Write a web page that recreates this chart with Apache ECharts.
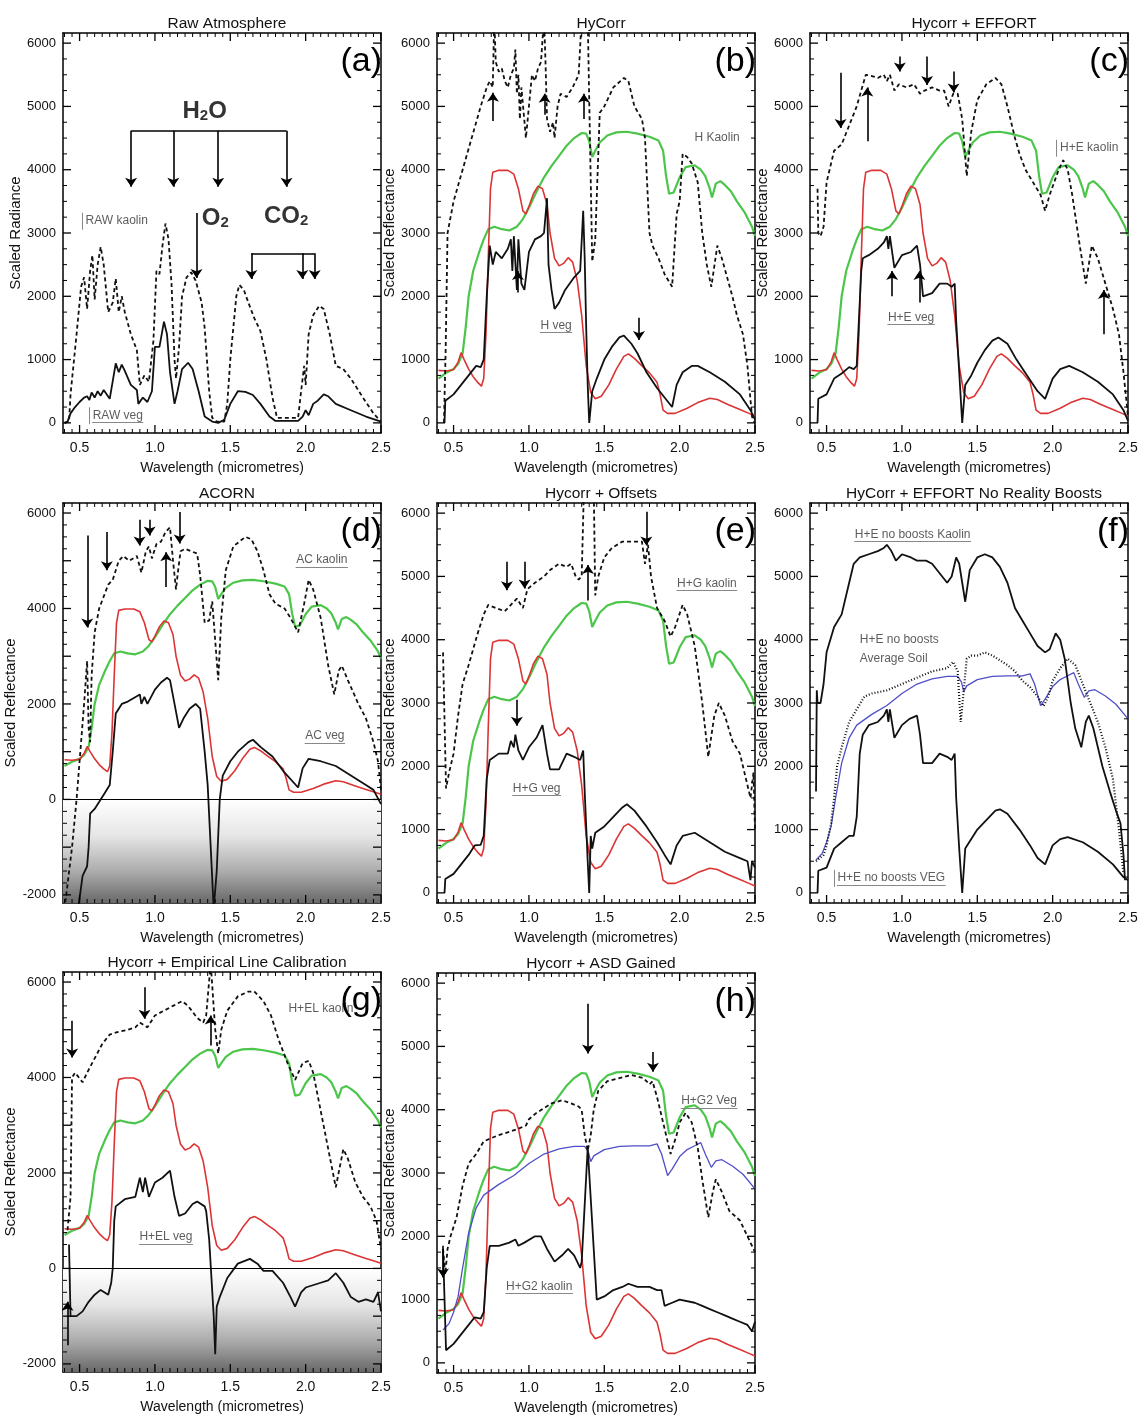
<!DOCTYPE html>
<html>
<head>
<meta charset="utf-8">
<title>Atmospheric correction comparison</title>
<script src="https://cdn.jsdelivr.net/npm/echarts@6.0.0/dist/echarts.min.js"></script>
<style>
  html, body { margin: 0; padding: 0; background: #fff; }
  #chart { width: 1142px; height: 1416px; }
</style>
</head>
<body>
<div id="chart"></div>
<script>
const FONT = '"Liberation Sans", Arial, sans-serif';
const xMin = 0.39, xMax = 2.5;
const xTicks = [0.5, 1.0, 1.5, 2.0, 2.5];
const yTicks = [0, 1000, 2000, 3000, 4000, 5000, 6000];
const yTicksNeg = [-2000, -1000, 0, 1000, 2000, 3000, 4000, 5000, 6000];

// library spectra, the same in most panels
const libKaolin = [[0.40,700],[0.45,790],[0.50,850],[0.53,930],[0.56,1100],[0.58,1500],[0.60,2000],[0.63,2400],[0.67,2700],[0.70,2900],[0.73,3060],[0.77,3100],[0.82,3060],[0.87,3040],[0.92,3100],[0.96,3220],[1.00,3400],[1.05,3650],[1.10,3880],[1.15,4060],[1.20,4220],[1.25,4380],[1.30,4500],[1.35,4580],[1.38,4570],[1.40,4450],[1.42,4200],[1.44,4300],[1.47,4430],[1.52,4540],[1.58,4590],[1.65,4600],[1.72,4570],[1.80,4520],[1.86,4460],[1.89,4300],[1.91,3900],[1.93,3620],[1.96,3640],[2.00,3880],[2.04,4040],[2.10,4070],[2.14,4000],[2.17,3900],[2.20,3700],[2.215,3560],[2.24,3780],[2.27,3820],[2.30,3760],[2.34,3660],[2.38,3500],[2.43,3330],[2.48,3100],[2.50,2950]];
const libVeg = [[0.40,830],[0.45,820],[0.50,840],[0.53,960],[0.55,1110],[0.57,1000],[0.60,850],[0.63,730],[0.66,640],[0.685,580],[0.70,700],[0.715,1400],[0.73,2600],[0.745,3700],[0.76,3960],[0.80,3990],[0.86,3990],[0.90,3930],[0.93,3700],[0.96,3350],[0.98,3300],[1.00,3420],[1.03,3620],[1.06,3740],[1.09,3700],[1.12,3450],[1.14,3000],[1.17,2600],[1.20,2480],[1.23,2520],[1.26,2610],[1.29,2540],[1.32,2250],[1.35,1700],[1.38,900],[1.41,480],[1.44,380],[1.48,420],[1.53,600],[1.58,850],[1.63,1050],[1.66,1090],[1.70,1020],[1.75,900],[1.80,790],[1.85,640],[1.87,450],[1.89,200],[1.92,150],[1.97,150],[2.05,230],[2.12,320],[2.20,390],[2.25,370],[2.32,290],[2.40,210],[2.46,150],[2.50,110]];
const soilAvg = [[0.43,520],[0.47,620],[0.50,800],[0.53,1050],[0.56,1500],[0.60,2050],[0.65,2450],[0.70,2650],[0.80,2820],[0.90,2960],[1.00,3150],[1.10,3300],[1.20,3380],[1.30,3420],[1.37,3420],[1.395,3330],[1.41,3180],[1.43,3270],[1.50,3370],[1.60,3420],[1.70,3430],[1.80,3430],[1.85,3460],[1.88,3300],[1.92,2960],[1.95,3060],[2.00,3260],[2.05,3370],[2.10,3430],[2.14,3480],[2.17,3300],[2.21,3090],[2.24,3190],[2.28,3210],[2.35,3110],[2.42,2980],[2.50,2750]];

// (a) raw atmosphere
const aKaolin = [[0.40,0],[0.43,20],[0.44,450],[0.48,1400],[0.51,2150],[0.53,2300],[0.55,1800],[0.57,2400],[0.585,2650],[0.60,1950],[0.62,2500],[0.64,2780],[0.66,2500],[0.69,1750],[0.72,1900],[0.74,2280],[0.76,1750],[0.78,2000],[0.80,1750],[0.84,1400],[0.88,1150],[0.90,600],[0.93,750],[0.96,650],[0.99,1300],[1.01,2400],[1.03,2350],[1.05,2800],[1.07,3150],[1.09,2900],[1.11,2200],[1.13,1000],[1.14,700],[1.16,1200],[1.18,2000],[1.21,2300],[1.24,2380],[1.27,2250],[1.31,1900],[1.33,1500],[1.36,500],[1.38,80],[1.41,20],[1.46,20],[1.48,300],[1.50,1000],[1.54,2000],[1.56,2180],[1.59,2100],[1.62,1900],[1.66,1650],[1.70,1450],[1.74,1000],[1.78,400],[1.81,80],[1.95,80],[1.97,500],[1.99,900],[2.00,600],[2.02,1400],[2.03,1500],[2.05,1700],[2.09,1850],[2.12,1800],[2.16,1400],[2.20,900],[2.25,850],[2.30,700],[2.38,400],[2.45,150],[2.50,20]];
const aVeg = [[0.40,0],[0.42,20],[0.44,150],[0.47,250],[0.50,330],[0.53,400],[0.55,420],[0.565,360],[0.58,480],[0.60,400],[0.62,500],[0.64,430],[0.66,520],[0.70,380],[0.74,940],[0.76,800],[0.78,920],[0.80,820],[0.84,600],[0.88,520],[0.89,300],[0.92,400],[0.95,330],[0.98,500],[1.00,1200],[1.03,1200],[1.06,1600],[1.08,1400],[1.10,800],[1.13,300],[1.15,500],[1.18,850],[1.22,950],[1.25,850],[1.29,500],[1.33,100],[1.38,20],[1.42,0],[1.46,50],[1.50,300],[1.55,500],[1.60,490],[1.65,440],[1.70,300],[1.76,100],[1.80,30],[1.95,30],[1.98,100],[2.00,200],[2.02,120],[2.05,300],[2.08,350],[2.12,450],[2.15,420],[2.20,300],[2.30,200],[2.40,100],[2.50,20]];

// (b) HyCorr
const bKaolin = [[0.436,0],[0.447,1100],[0.46,3000],[0.50,3500],[0.56,4000],[0.62,4500],[0.68,5000],[0.72,5300],[0.74,5400],[0.76,5300],[0.77,6400],[0.78,5700],[0.80,5550],[0.82,5600],[0.84,5400],[0.86,5300],[0.88,5500],[0.90,5600],[0.91,5900],[0.92,5200],[0.93,5500],[0.94,4800],[0.95,5300],[0.98,4500],[1.00,5000],[1.02,5500],[1.04,5400],[1.06,5600],[1.08,5700],[1.10,6400],[1.11,5700],[1.12,4800],[1.14,4600],[1.16,4750],[1.17,4500],[1.19,5000],[1.21,5200],[1.25,5150],[1.29,5300],[1.31,5400],[1.33,5500],[1.35,6400],[1.39,6400],[1.42,2550],[1.44,2900],[1.47,4900],[1.50,5000],[1.56,5300],[1.63,5450],[1.66,5400],[1.70,5000],[1.75,4800],[1.77,4500],[1.80,3000],[1.82,2800],[1.86,2600],[1.90,2350],[1.95,2150],[1.98,3300],[2.00,3500],[2.02,4250],[2.05,4200],[2.08,4100],[2.12,3800],[2.15,3000],[2.18,2500],[2.21,2150],[2.25,2800],[2.28,2600],[2.35,2000],[2.38,1700],[2.42,1400],[2.45,900],[2.48,100],[2.50,0]];
const bVeg = [[0.44,0],[0.445,350],[0.50,450],[0.55,600],[0.60,750],[0.65,900],[0.68,880],[0.70,1000],[0.72,2000],[0.74,2800],[0.76,2500],[0.78,2700],[0.82,2600],[0.86,2750],[0.88,2900],[0.89,2400],[0.90,2950],[0.92,2100],[0.93,2900],[0.95,2200],[0.97,2100],[1.00,2700],[1.04,2900],[1.08,2950],[1.10,3000],[1.12,3550],[1.13,2500],[1.15,2100],[1.17,1800],[1.20,1900],[1.24,2100],[1.30,2300],[1.34,2400],[1.36,3350],[1.37,2600],[1.38,1500],[1.39,600],[1.40,0],[1.42,500],[1.45,700],[1.50,1000],[1.55,1200],[1.60,1350],[1.63,1380],[1.68,1250],[1.72,1100],[1.78,800],[1.85,550],[1.90,400],[1.95,250],[1.98,600],[2.02,800],[2.08,900],[2.12,900],[2.20,800],[2.30,650],[2.40,450],[2.47,200],[2.50,50]];

// (c) Hycorr + EFFORT
const cKaolin = [[0.44,3700],[0.445,3000],[0.46,2950],[0.48,3100],[0.50,3800],[0.55,4300],[0.60,4400],[0.65,4700],[0.70,5000],[0.73,5250],[0.76,5500],[0.80,5480],[0.84,5450],[0.88,5500],[0.90,5400],[0.92,5500],[0.95,5250],[0.98,5350],[1.03,5300],[1.08,5350],[1.12,5200],[1.15,5250],[1.20,5300],[1.25,5250],[1.28,5250],[1.31,5000],[1.34,5200],[1.37,5200],[1.40,4800],[1.43,3900],[1.46,4600],[1.50,5100],[1.56,5350],[1.62,5450],[1.66,5350],[1.70,5000],[1.75,4500],[1.78,4250],[1.82,4000],[1.87,3800],[1.92,3600],[1.95,3350],[1.98,3600],[2.04,4000],[2.07,4150],[2.10,4000],[2.13,3600],[2.18,2800],[2.22,2200],[2.26,2800],[2.30,2600],[2.35,2200],[2.40,1800],[2.44,1400],[2.47,800],[2.50,100]];
const cVeg = [[0.44,0],[0.445,380],[0.50,450],[0.55,700],[0.60,780],[0.65,880],[0.68,850],[0.70,900],[0.73,2400],[0.74,2600],[0.78,2650],[0.84,2750],[0.88,2850],[0.90,2950],[0.91,2750],[0.92,2950],[0.95,2450],[1.00,2650],[1.06,2700],[1.10,2800],[1.12,2500],[1.14,2000],[1.20,2050],[1.25,2200],[1.30,2200],[1.33,2150],[1.35,2200],[1.36,1600],[1.38,800],[1.40,0],[1.42,600],[1.46,750],[1.50,950],[1.55,1150],[1.60,1300],[1.64,1350],[1.70,1250],[1.76,1000],[1.83,750],[1.90,500],[1.95,380],[2.00,700],[2.05,850],[2.11,900],[2.20,800],[2.30,650],[2.40,450],[2.47,200],[2.50,30]];

// (d) ACORN
const dKaolin = [[0.40,-2300],[0.45,-1000],[0.48,0],[0.50,800],[0.53,2000],[0.55,2900],[0.56,1500],[0.57,1200],[0.58,2600],[0.60,3500],[0.63,4000],[0.69,4500],[0.72,4600],[0.76,5000],[0.79,5100],[0.83,5000],[0.88,5100],[0.91,4750],[0.94,5200],[0.96,5300],[0.98,5050],[1.01,5350],[1.04,5400],[1.07,5600],[1.10,5700],[1.12,5000],[1.14,4400],[1.15,4700],[1.17,5200],[1.20,5250],[1.24,5200],[1.28,5150],[1.30,4700],[1.33,3700],[1.36,3750],[1.38,4150],[1.42,2500],[1.44,3800],[1.47,4800],[1.52,5300],[1.60,5500],[1.64,5450],[1.68,5200],[1.72,4800],[1.76,4300],[1.80,4100],[1.86,4000],[1.90,3800],[1.95,3500],[1.99,4100],[2.02,4600],[2.05,4400],[2.10,3800],[2.15,2800],[2.19,2200],[2.22,2700],[2.24,2800],[2.28,2500],[2.35,2000],[2.40,1700],[2.45,1200],[2.48,800],[2.50,200]];
const dVeg = [[0.49,-2300],[0.52,-1600],[0.55,-1400],[0.56,-1000],[0.57,-300],[0.60,-200],[0.66,100],[0.70,300],[0.72,1000],[0.74,1800],[0.78,2000],[0.82,2050],[0.90,2200],[0.91,2000],[0.93,2150],[0.95,2000],[1.00,2300],[1.04,2450],[1.08,2550],[1.10,2500],[1.13,2000],[1.16,1500],[1.19,1700],[1.23,1900],[1.27,2000],[1.30,1900],[1.33,1000],[1.35,300],[1.37,-1000],[1.39,-2300],[1.41,-1500],[1.43,0],[1.45,500],[1.50,800],[1.55,1000],[1.62,1200],[1.65,1250],[1.70,1100],[1.78,900],[1.85,600],[1.95,250],[1.98,650],[2.02,850],[2.10,800],[2.20,700],[2.30,500],[2.40,300],[2.45,200],[2.50,-100]];

// (e) Hycorr + Offsets
const eKaolin = [[0.43,3800],[0.45,1650],[0.47,1900],[0.50,2200],[0.53,2800],[0.56,3300],[0.60,3600],[0.66,4100],[0.70,4400],[0.73,4550],[0.78,4500],[0.84,4450],[0.88,4550],[0.92,4650],[0.96,4500],[0.99,4800],[1.04,4900],[1.10,5000],[1.14,5100],[1.20,5200],[1.25,5150],[1.28,5200],[1.31,5000],[1.33,4950],[1.35,5000],[1.365,6400],[1.43,6400],[1.44,4700],[1.46,5000],[1.50,5300],[1.55,5450],[1.62,5550],[1.70,5550],[1.75,5550],[1.77,5200],[1.79,5500],[1.81,5000],[1.85,4500],[1.90,4300],[1.94,4050],[1.97,4200],[2.02,4550],[2.05,4400],[2.10,3900],[2.15,3000],[2.19,2150],[2.23,2800],[2.26,3000],[2.30,2800],[2.35,2400],[2.40,2200],[2.44,1800],[2.47,1500],[2.49,1900],[2.50,1000]];
const eVeg = [[0.44,0],[0.445,220],[0.50,300],[0.55,450],[0.60,600],[0.64,750],[0.68,760],[0.70,900],[0.72,1800],[0.74,2100],[0.80,2200],[0.86,2200],[0.88,2400],[0.90,2300],[0.91,2500],[0.93,2250],[0.96,2100],[1.00,2300],[1.05,2450],[1.09,2650],[1.12,2200],[1.14,1950],[1.20,1950],[1.25,2200],[1.30,2150],[1.34,2100],[1.36,2250],[1.37,1600],[1.39,500],[1.40,0],[1.41,900],[1.42,700],[1.44,950],[1.50,1050],[1.56,1200],[1.62,1350],[1.65,1400],[1.70,1300],[1.78,1050],[1.85,800],[1.90,600],[1.94,450],[1.98,750],[2.02,900],[2.10,950],[2.20,800],[2.30,650],[2.40,550],[2.45,500],[2.47,200],[2.48,500],[2.50,400]];

// (f) Hycorr + EFFORT, no reality boosts
const fKaolin = [[0.43,1600],[0.435,3200],[0.44,3000],[0.46,3000],[0.48,3300],[0.50,3800],[0.55,4200],[0.60,4400],[0.64,4800],[0.68,5200],[0.72,5300],[0.78,5350],[0.84,5400],[0.88,5450],[0.90,5500],[0.93,5400],[0.96,5250],[1.00,5350],[1.06,5300],[1.10,5250],[1.16,5250],[1.20,5200],[1.25,5050],[1.30,4900],[1.33,5000],[1.36,5300],[1.38,5200],[1.42,4600],[1.45,5100],[1.50,5300],[1.55,5350],[1.60,5300],[1.65,5150],[1.70,4900],[1.75,4500],[1.80,4300],[1.85,4100],[1.90,3900],[1.95,3800],[1.98,3850],[2.02,4100],[2.05,4000],[2.08,3700],[2.12,3000],[2.15,2600],[2.19,2300],[2.22,2700],[2.24,2800],[2.27,2600],[2.33,2000],[2.38,1600],[2.42,1300],[2.45,1100],[2.47,600],[2.48,200]];
const fSoil = [[0.43,500],[0.48,600],[0.50,750],[0.53,1100],[0.55,1500],[0.57,2000],[0.60,2300],[0.65,2700],[0.70,2900],[0.75,3100],[0.80,3150],[0.90,3200],[1.00,3300],[1.10,3400],[1.20,3500],[1.30,3550],[1.34,3650],[1.37,3500],[1.39,2700],[1.41,3200],[1.43,3700],[1.46,3750],[1.50,3750],[1.55,3800],[1.60,3750],[1.70,3600],[1.75,3500],[1.80,3350],[1.85,3250],[1.90,3100],[1.94,2950],[1.97,3100],[2.00,3350],[2.05,3550],[2.10,3700],[2.15,3600],[2.20,3300],[2.25,3000],[2.30,2700],[2.35,2300],[2.40,1800],[2.44,1000],[2.47,300]];
const fVeg = [[0.44,0],[0.445,350],[0.50,400],[0.55,700],[0.60,800],[0.65,900],[0.68,900],[0.70,1200],[0.72,2200],[0.74,2500],[0.78,2650],[0.84,2700],[0.88,2800],[0.90,2900],[0.91,2700],[0.92,2900],[0.95,2450],[1.00,2650],[1.05,2750],[1.10,2800],[1.12,2500],[1.14,2050],[1.20,2050],[1.25,2200],[1.30,2150],[1.33,2100],[1.35,2200],[1.36,1500],[1.38,700],[1.40,0],[1.42,700],[1.46,850],[1.50,1000],[1.56,1150],[1.62,1300],[1.65,1320],[1.70,1250],[1.78,1000],[1.85,750],[1.90,550],[1.95,450],[2.00,750],[2.05,850],[2.10,880],[2.20,800],[2.30,650],[2.40,450],[2.47,250],[2.50,200]];

// (g) Hycorr + empirical line calibration
const gKaolin = [[0.42,800],[0.44,1500],[0.45,4000],[0.47,4100],[0.52,3900],[0.55,4100],[0.60,4400],[0.65,4700],[0.70,4900],[0.75,4950],[0.82,5000],[0.87,5050],[0.90,5150],[0.95,5050],[1.00,5300],[1.06,5400],[1.12,5500],[1.18,5600],[1.22,5500],[1.28,5250],[1.32,5150],[1.34,5300],[1.37,6400],[1.40,5000],[1.42,4500],[1.44,5000],[1.48,5400],[1.55,5700],[1.62,5800],[1.66,5800],[1.72,5600],[1.77,5300],[1.82,4800],[1.88,4300],[1.93,3950],[1.98,4300],[2.02,4350],[2.05,4100],[2.10,3300],[2.15,2500],[2.20,1700],[2.25,2500],[2.28,2300],[2.33,1800],[2.38,1500],[2.43,1300],[2.47,1000],[2.50,400]];
const gVeg = [[0.43,500],[0.44,-1000],[0.48,-1000],[0.52,-900],[0.56,-700],[0.60,-550],[0.64,-450],[0.69,-550],[0.71,-300],[0.72,0],[0.73,1000],[0.74,1300],[0.80,1450],[0.87,1500],[0.90,1900],[0.92,1600],[0.935,1900],[0.96,1500],[1.00,1800],[1.05,1900],[1.10,2050],[1.13,1500],[1.16,1100],[1.20,1150],[1.25,1350],[1.28,1400],[1.33,1300],[1.34,1200],[1.36,600],[1.39,-1000],[1.40,-1800],[1.41,-800],[1.43,-600],[1.48,-200],[1.55,100],[1.63,200],[1.68,100],[1.72,-50],[1.78,-50],[1.85,-300],[1.90,-600],[1.93,-800],[1.97,-500],[2.00,-400],[2.10,-300],[2.15,-250],[2.20,-100],[2.25,-300],[2.30,-600],[2.35,-700],[2.40,-650],[2.45,-700],[2.48,-500],[2.50,-900]];

// (h) Hycorr + ASD gained
const hDashed = [[0.43,1800],[0.445,1400],[0.46,1800],[0.48,2000],[0.52,2300],[0.56,2800],[0.60,3150],[0.65,3300],[0.70,3500],[0.75,3550],[0.80,3600],[0.87,3650],[0.93,3700],[0.98,3750],[1.00,3850],[1.05,3950],[1.15,4100],[1.22,4150],[1.28,4100],[1.33,4050],[1.35,4000],[1.37,3600],[1.39,3350],[1.41,3600],[1.43,4000],[1.46,4300],[1.52,4450],[1.60,4500],[1.68,4550],[1.76,4500],[1.80,4400],[1.82,4450],[1.85,4200],[1.90,3700],[1.94,3300],[1.98,3600],[2.00,3800],[2.04,3950],[2.08,3800],[2.12,3400],[2.15,2900],[2.19,2300],[2.22,2700],[2.24,2900],[2.28,2700],[2.33,2400],[2.40,2250],[2.45,2000],[2.50,1750]];
const hSolid = [[0.43,1800],[0.435,1400],[0.45,200],[0.50,300],[0.55,450],[0.60,600],[0.64,720],[0.68,700],[0.70,800],[0.72,1500],[0.74,1850],[0.80,1850],[0.87,1900],[0.91,1950],[0.93,1850],[0.97,1900],[1.04,2000],[1.08,2000],[1.12,1800],[1.17,1600],[1.22,1700],[1.26,1800],[1.30,1700],[1.34,1500],[1.35,1600],[1.39,3400],[1.45,1000],[1.50,1050],[1.56,1150],[1.62,1200],[1.66,1250],[1.72,1200],[1.80,1200],[1.85,1150],[1.88,1150],[1.90,900],[1.95,950],[2.00,1000],[2.10,950],[2.15,900],[2.20,850],[2.25,800],[2.30,750],[2.35,700],[2.40,650],[2.45,600],[2.48,500],[2.50,650]];

// annotations: vertical arrows [x, from, to], bracket bars [x0, x1, y],
// notes [x, y, text, decoration] where u = underline, b = bar on the left
const arrowsA = [[0.842,4615,3730],[1.122,4615,3730],[1.42,4615,3730],[1.873,4615,3730],[1.276,3316,2290],[1.64,2680,2273],[1.978,2680,2273],[2.06,2680,2273]];
const barsA = [[0.842,1.873,4615],[1.64,2.06,2680]];
const gasA = [[1.33,4920,'H2O'],[1.40,3230,'O2'],[1.87,3260,'CO2']];
const notesA = [[0.53,3195,'RAW kaolin','b'],[0.577,121,'RAW veg','ub']];
const arrowsB = [[0.761,4770,5215],[1.104,4870,5200],[1.365,4800,5200],[0.927,2060,2400],[1.73,1660,1310]];
const notesB = [[2.088,4504,'H Kaolin',''],[1.066,1538,'H veg','u']];
const arrowsC = [[0.593,5530,4660],[0.77,4450,5300],[0.986,5790,5550],[1.167,5790,5340],[1.343,5550,5220],[0.935,2000,2400],[1.116,1900,2400],[2.34,1400,2100]];
const notesC = [[2.039,4347,'H+E kaolin','b'],[0.897,1669,'H+E veg','u']];
const arrowsD = [[0.551,5530,3600],[0.681,5600,4800],[0.898,5860,5320],[0.965,5860,5530],[1.075,4450,5180],[1.164,6020,5360]];
const notesD = [[1.927,5021,'AC kaolin','u'],[1.987,1330,'AC veg','u']];
const arrowsE = [[0.854,5230,4780],[0.971,5230,4810],[1.392,4620,5180],[1.779,6020,5490],[0.92,3050,2640]];
const notesE = [[1.973,4887,'H+G kaolin','u'],[0.883,1650,'H+G veg','u']];
const notesF = [[0.677,5665,'H+E no boosts Kaolin','u'],[0.71,3994,'H+E no boosts',''],[0.71,3705,'Average Soil',''],[0.562,236,'H+E no boosts VEG','ub']];
const arrowsG = [[0.451,5190,4420],[0.931,5890,5230],[1.37,4670,5300],[0.42,-1610,-700]];
const notesG = [[1.876,5439,'H+EL kaolin',''],[0.887,660,'H+EL veg','u']];
const arrowsH = [[1.392,5675,4890],[1.823,4910,4600],[0.43,1850,1350]];
const notesH = [[2.0,4141,'H+G2 Veg','u'],[0.838,1208,'H+G2 kaolin','u']];

const styles = {
  dash:  { color: '#111', width: 1.8, type: [4, 3] },
  solid: { color: '#111', width: 1.8, type: 'solid' },
  green: { color: '#4cc64a', width: 2.2, type: 'solid' },
  red:   { color: '#dc3434', width: 1.6, type: 'solid' },
  blue:  { color: '#4f4fc8', width: 1.3, type: 'solid' },
  dot:   { color: '#111', width: 2.2, type: [1, 2] }
};

const lib = [[libKaolin, 'green'], [libVeg, 'red']];
const panels = [
  { tag: '(a)', title: 'Raw Atmosphere', yName: 'Scaled Radiance', left: 63, top: 33,
    curves: [[aKaolin, 'dash'], [aVeg, 'solid']], arrows: arrowsA, bars: barsA, gas: gasA, notes: notesA },
  { tag: '(b)', title: 'HyCorr', left: 437, top: 33,
    curves: lib.concat([[bKaolin, 'dash'], [bVeg, 'solid']]), arrows: arrowsB, notes: notesB },
  { tag: '(c)', title: 'Hycorr + EFFORT', left: 810, top: 33,
    curves: lib.concat([[cKaolin, 'dash'], [cVeg, 'solid']]), arrows: arrowsC, notes: notesC },
  { tag: '(d)', title: 'ACORN', left: 63, top: 503, neg: true,
    curves: lib.concat([[dKaolin, 'dash'], [dVeg, 'solid']]), arrows: arrowsD, notes: notesD },
  { tag: '(e)', title: 'Hycorr + Offsets', left: 437, top: 503,
    curves: lib.concat([[eKaolin, 'dash'], [eVeg, 'solid']]), arrows: arrowsE, notes: notesE },
  { tag: '(f)', title: 'HyCorr + EFFORT No Reality Boosts', left: 810, top: 503,
    curves: [[soilAvg, 'blue'], [fKaolin, 'solid'], [fSoil, 'dot'], [fVeg, 'solid']], notes: notesF },
  { tag: '(g)', title: 'Hycorr + Empirical Line Calibration', left: 63, top: 972, neg: true,
    curves: lib.concat([[gKaolin, 'dash'], [gVeg, 'solid']]), arrows: arrowsG, notes: notesG },
  { tag: '(h)', title: 'Hycorr + ASD Gained', left: 437, top: 973,
    curves: lib.concat([[soilAvg, 'blue'], [hDashed, 'dash'], [hSolid, 'solid']]), arrows: arrowsH, notes: notesH }
];

const W = 318, H = 400;
const NOTE_SIZE = 12;
const grid = [], xAxis = [], yAxis = [], series = [], title = [], graphic = [];

const measure = document.createElement('canvas').getContext('2d');
measure.font = NOTE_SIZE + 'px ' + FONT;

function fmtX(v) {
  return Math.abs(v * 2 - Math.round(v * 2)) < 1e-6 ? v.toFixed(1) : '';
}
function fmtY(v) {
  return Math.abs(v % 1000) < 1e-6 ? String(v) : '';
}
function subscript(s) {
  return s.split('2').map(t => (t ? '{b|' + t + '}' : '')).join('{s|2}');
}

// tick list for the frame: [value, kind]  kind 0/1 = x major/minor, 2/3 = y major/minor
function frameTicks(majY, minorY, yMin, yMax) {
  const out = [];
  xTicks.forEach(v => out.push([v, 0]));
  for (let k = Math.ceil(xMin / 0.05); k * 0.05 <= xMax + 1e-9; k++) {
    const v = +(k * 0.05).toFixed(2);
    if (xTicks.indexOf(v) < 0) out.push([v, 1]);
  }
  majY.forEach(v => out.push([v, 2]));
  for (let k = Math.ceil(yMin / minorY); k * minorY <= yMax; k++) {
    const v = k * minorY;
    if (majY.indexOf(v) < 0) out.push([v, 3]);
  }
  return out;
}

function renderTick(params, api) {
  const v = api.value(0), kind = api.value(1);
  const cs = params.coordSys;
  const len = (kind === 0 || kind === 2) ? 8 : 4;
  const style = { stroke: '#000', lineWidth: (kind === 0 || kind === 2) ? 1.3 : 1 };
  if (kind < 2) {
    const px = api.coord([v, 0])[0];
    const b = cs.y + cs.height;
    return { type: 'group', children: [
      { type: 'line', shape: { x1: px, y1: b, x2: px, y2: b - len }, style: style },
      { type: 'line', shape: { x1: px, y1: cs.y, x2: px, y2: cs.y + len }, style: style }
    ] };
  }
  const py = api.coord([1, v])[1];
  const r = cs.x + cs.width;
  return { type: 'group', children: [
    { type: 'line', shape: { x1: cs.x, y1: py, x2: cs.x + len, y2: py }, style: style },
    { type: 'line', shape: { x1: r, y1: py, x2: r - len, y2: py }, style: style }
  ] };
}

panels.forEach((p, i) => {
  const yMin = p.neg ? -2170 : -160;
  const yMax = p.neg ? 6210 : 6160;
  const xi = 2 * i, yi = 2 * i;
  const dx = (xMax - xMin) / W, dy = (yMax - yMin) / H;   // data units per pixel
  grid.push({ left: p.left, top: p.top, width: W, height: H });

  const frame = {
    axisLine: { show: true, onZero: false, lineStyle: { color: '#000', width: 1.5 } },
    axisTick: { show: false }, minorTick: { show: false },
    splitLine: { show: false }, minorSplitLine: { show: false }
  };
  const xBase = Object.assign({ type: 'value', gridIndex: i, min: xMin, max: xMax }, frame);
  const yBase = Object.assign({ type: 'value', gridIndex: i, min: yMin, max: yMax }, frame);

  xAxis.push(Object.assign({}, xBase, {
    position: 'bottom', name: 'Wavelength (micrometres)', nameLocation: 'middle', nameGap: 28,
    nameTextStyle: { fontSize: 14, fontFamily: FONT, color: '#111' },
    axisLabel: { fontSize: 14, fontFamily: FONT, color: '#111', margin: 8, formatter: fmtX }
  }));
  xAxis.push(Object.assign({}, xBase, { position: 'top', axisLabel: { show: false } }));
  yAxis.push(Object.assign({}, yBase, {
    position: 'left', name: p.yName || 'Scaled Reflectance', nameLocation: 'middle', nameGap: 37,
    nameTextStyle: { fontSize: 15, fontFamily: FONT, color: '#111' },
    axisLabel: { fontSize: 13, fontFamily: FONT, color: '#111', margin: 7, formatter: fmtY }
  }));
  yAxis.push(Object.assign({}, yBase, { position: 'right', axisLabel: { show: false } }));

  title.push({
    text: p.title, left: p.left + W / 2, top: p.top - 22, textAlign: 'center',
    textStyle: { fontSize: 15.5, fontWeight: 'normal', fontFamily: FONT, color: '#111' }
  });

  if (p.neg) {
    // grey shading below zero and the zero line
    series.push({
      type: 'line', xAxisIndex: xi, yAxisIndex: yi, data: [], z: 1, silent: true,
      markArea: {
        silent: true,
        itemStyle: {
          color: new echarts.graphic.LinearGradient(0, 0, 0, 1, [
            { offset: 0, color: '#ffffff' }, { offset: 0.35, color: '#e6e6e6' },
            { offset: 0.7, color: '#ababab' }, { offset: 1, color: '#686868' }
          ])
        },
        data: [[{ yAxis: 0 }, { yAxis: yMin }]]
      },
      markLine: {
        silent: true, symbol: ['none', 'none'], label: { show: false },
        lineStyle: { color: '#000', width: 1, type: 'solid' }, data: [{ yAxis: 0 }]
      }
    });
  }

  // inward ticks on all four sides of the frame
  series.push({
    type: 'custom', xAxisIndex: xi, yAxisIndex: yi, z: 3, silent: true,
    renderItem: renderTick,
    data: frameTicks(p.neg ? yTicksNeg : yTicks, 250, yMin, yMax)
  });

  p.curves.forEach(([data, st]) => {
    series.push({
      type: 'line', xAxisIndex: xi, yAxisIndex: yi, data: data, symbol: 'none',
      lineStyle: styles[st], z: 2, silent: true
    });
  });

  if (p.arrows) {
    series.push({
      type: 'lines', coordinateSystem: 'cartesian2d', xAxisIndex: xi, yAxisIndex: yi, z: 4, silent: true,
      symbol: ['none', 'arrow'], symbolSize: 9,
      lineStyle: { color: '#000', width: 1.6, opacity: 1 },
      data: p.arrows.map(a => ({ coords: [[a[0], a[1]], [a[0], a[2]]] }))
    });
  }
  if (p.bars) {
    series.push({
      type: 'lines', coordinateSystem: 'cartesian2d', xAxisIndex: xi, yAxisIndex: yi, z: 4, silent: true,
      symbol: ['none', 'none'], lineStyle: { color: '#000', width: 1.6, opacity: 1 },
      data: p.bars.map(b => ({ coords: [[b[0], b[2]], [b[1], b[2]]] }))
    });
  }
  if (p.gas) {
    series.push({
      type: 'scatter', xAxisIndex: xi, yAxisIndex: yi, z: 5, silent: true, symbolSize: 1,
      itemStyle: { color: 'rgba(0,0,0,0)' },
      data: p.gas,
      label: {
        show: true, position: 'inside', color: '#000', textBorderWidth: 0,
        formatter: q => subscript(q.value[2]),
        rich: {
          b: { fontSize: 24, fontWeight: 'bold', fontFamily: FONT, color: '#000', textBorderWidth: 0, verticalAlign: 'bottom' },
          s: { fontSize: 15, fontWeight: 'bold', fontFamily: FONT, color: '#000', textBorderWidth: 0, verticalAlign: 'bottom' }
        }
      }
    });
  }
  series.push({
    type: 'scatter', xAxisIndex: xi, yAxisIndex: yi, z: 5, silent: true, symbolSize: 1,
    itemStyle: { color: 'rgba(0,0,0,0)' },
    data: p.notes,
    label: {
      show: true, position: 'right', distance: 1, formatter: q => q.value[2],
      fontSize: NOTE_SIZE, fontFamily: FONT, color: '#333'
    }
  });

  // thin underline / side bar next to the curve labels
  const deco = [];
  p.notes.forEach(n => {
    const wText = measure.measureText(n[2]).width;
    if (n[3].indexOf('u') >= 0) {
      deco.push({ coords: [[n[0] + 1 * dx, n[1] - 7 * dy], [n[0] + (wText + 2) * dx, n[1] - 7 * dy]] });
    }
    if (n[3].indexOf('b') >= 0) {
      deco.push({ coords: [[n[0] - 2 * dx, n[1] + 8 * dy], [n[0] - 2 * dx, n[1] - 9 * dy]] });
    }
  });
  if (deco.length) {
    series.push({
      type: 'lines', coordinateSystem: 'cartesian2d', xAxisIndex: xi, yAxisIndex: yi, z: 5, silent: true,
      symbol: ['none', 'none'], lineStyle: { color: '#888', width: 1, opacity: 1 }, data: deco
    });
  }

  graphic.push({
    type: 'text', x: p.left + W + 1, y: p.top + 12, z: 100,
    style: {
      text: p.tag, font: '34px ' + FONT, fill: '#000',
      textAlign: 'right', textVerticalAlign: 'top', align: 'right', verticalAlign: 'top'
    }
  });
});

const chart = echarts.init(document.getElementById('chart'), null, { renderer: 'canvas' });
chart.setOption({
  backgroundColor: '#ffffff',
  animation: false,
  textStyle: { fontFamily: FONT },
  title: title,
  grid: grid,
  xAxis: xAxis,
  yAxis: yAxis,
  series: series,
  graphic: graphic
});
</script>
</body>
</html>
